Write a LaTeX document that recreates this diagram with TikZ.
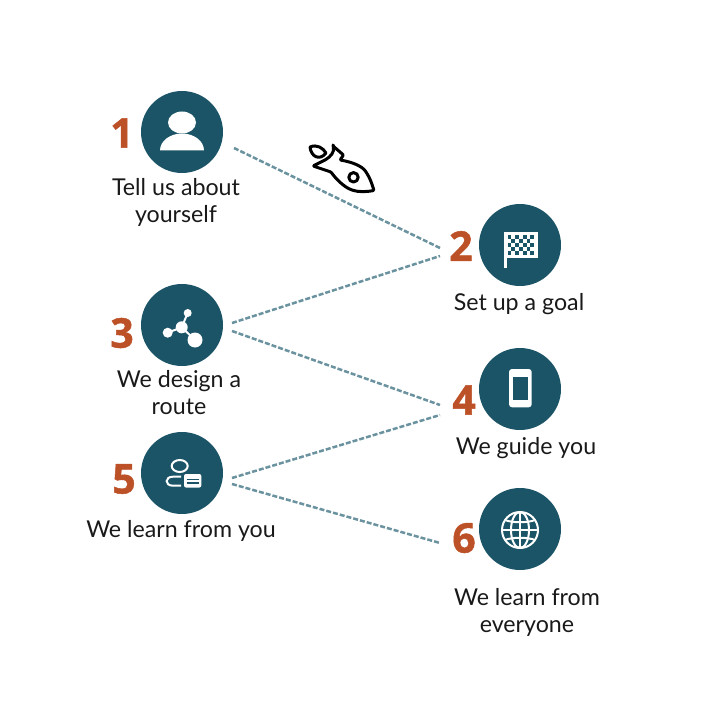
\documentclass[tikz,border=0pt]{standalone}
\usepackage{fontspec}
\setmainfont{Lato}
\newfontfamily\numfont{Open Sans}[BoldFeatures={FakeBold=1.2}]
\usepackage{xcolor}
\usetikzlibrary{positioning,calc}
\definecolor{tealdark}{HTML}{1A5466}
\definecolor{rust}{HTML}{BC5128}
\definecolor{dashteal}{HTML}{6A929F}
\tikzset{
  stepcirc/.style={circle, fill=tealdark, minimum size=82pt, inner sep=0pt},
  stepnum/.style={text=rust, font=\numfont\bfseries\fontsize{41}{41}\selectfont, inner sep=0pt},
  steptxt/.style={text=black!90, font=\fontsize{23.2}{27}\selectfont, align=center, inner sep=0pt},
  link/.style={dashteal, line width=2.5pt, dash pattern=on 5pt off 2pt},
  iconline/.style={white, line width=2pt},
  rocketline/.style={black, line width=3pt, line join=round}
}
\begin{document}
\begin{tikzpicture}[x=1pt, y=-1pt]
  \useasboundingbox (0,0) rectangle (705,714);

  % Circles and numbers
  \foreach \id/\cx/\cy/\nx/\ny in {1/182/132/122/133, 2/520/245/461/246, 3/182/325/122/333, 4/520/389/464/400, 5/182/473/124/479, 6/520/529/464/538} {
    \node[stepcirc] (circ\id) at (\cx,\cy) {};
    \node[stepnum] (num\id) at (\nx,\ny) {\id};
  }

  % Labels
  \node[steptxt] (txt1) at (176,202) {Tell us about\\yourself};
  \node[steptxt] (txt2) at (519,304) {Set up a goal};
  \node[steptxt] (txt3) at (179,393) {We design a\\route};
  \node[steptxt] (txt4) at (526,448) {We guide you};
  \node[steptxt] (txt5) at (181,531) {We learn from you};
  \node[steptxt] (txt6) at (527,612) {We learn from\\everyone};

  % Dashed links
  \draw[link] ([shift={(52,16)}]circ1.center) -- ([shift={(-21,2)}]num2.center);
  \draw[link] ([shift={(50,-2)}]circ3.center) -- ([shift={(-21,10)}]num2.center);
  \draw[link] ([shift={(50,6)}]circ3.center) -- ([shift={(-24,5)}]num4.center);
  \draw[link] ([shift={(50,5)}]circ5.center) -- ([shift={(-24,15)}]num4.center);
  \draw[link] ([shift={(50,11)}]circ5.center) -- ([shift={(-24,5)}]num6.center);

  % Person
  \fill[white] (182,122.5) ellipse [x radius=14, y radius=11];
  \fill[white] (160,150.5) arc [start angle=180, end angle=360, x radius=22, y radius=17] -- cycle;

  % Flag
  \fill[white] (504,232) rectangle (507,268);
  \fill[white] (504,232) rectangle (537.5,257.5);
  \foreach \i in {0,...,6} {
    \foreach \j in {0,...,4} {
      \pgfmathparse{int(mod(\i+\j,2))}
      \ifnum\pgfmathresult=0
        \fill[tealdark] (507.5+3.8*\i,235+3.9*\j) rectangle ++(3.8,3.9);
      \fi
    }
  }

  % Network
  \draw[iconline] (187.7,313) -- (181.7,327.3) -- (167.7,332.7) (181.7,327.3) -- (195,340);
  \fill[white] (181.7,327.3) circle (6);
  \fill[white] (187.7,313) circle (4);
  \fill[white] (167.7,332.7) circle (5);
  \fill[white] (195,340) circle (7.5);

  % Phone
  \fill[white, rounded corners=3pt] (509,369) rectangle (531.7,407.3);
  \fill[tealdark] (513,377.3) rectangle (527.7,400);

  % User with card
  \draw[iconline] (179.7,466) ellipse [x radius=8, y radius=6];
  \draw[iconline] (181,476.7) -- (173,476.7) .. controls (164.5,476.7) and (164.5,485.7) .. (173,485.7) -- (181,485.7);
  \fill[white, rounded corners=2pt] (184,474) rectangle (201.3,487.5);
  \draw[tealdark, line width=1.5pt] (186.5,479.3) -- (199,479.3) (186.5,482.9) -- (199,482.9);

  % Globe
  \draw[iconline] (520,530) circle (18);
  \draw[iconline] (520,530) ellipse [x radius=9, y radius=18];
  \draw[iconline] (520,512) -- (520,548) (502,530) -- (538,530);
  \draw[iconline] (505,520) .. controls (512,523) and (528,523) .. (535,520);
  \draw[iconline] (505,540) .. controls (512,537) and (528,537) .. (535,540);

  % Rocket
  \draw[rocketline, rounded corners=1pt] (333,146) -- (343.5,155) -- (340,160)
    .. controls (352,162) and (362,166) .. (366,172) .. controls (370,178) and (372,184) .. (374,190.5)
    .. controls (366,192) and (358,192) .. (352,190) .. controls (344,187) and (336,179) .. (331,172)
    -- (313,166) -- (325,160) .. controls (330,157) and (335,152) .. cycle;
  \draw[rocketline] (310,147) .. controls (317,144) and (323,148) .. (326,153)
    .. controls (320,161) and (311,157) .. cycle;
  \draw[rocketline] (353.5,177.3) circle (4.7);
\end{tikzpicture}
\end{document}
